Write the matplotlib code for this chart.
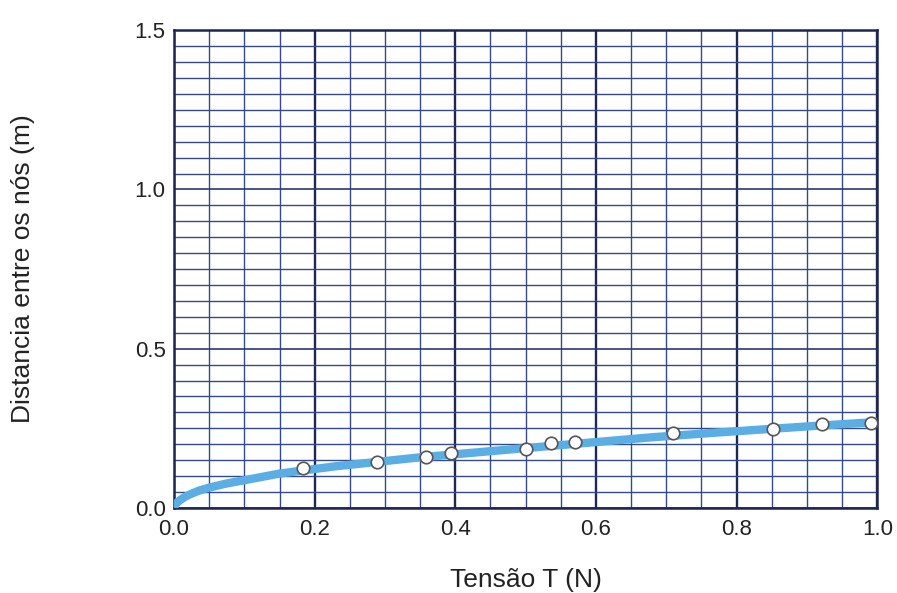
import matplotlib
matplotlib.use("Agg")
import matplotlib.pyplot as plt
from matplotlib.ticker import MultipleLocator

plt.rcParams['font.family'] = ['Liberation Sans', 'DejaVu Sans']

# Measured data points
tension = [0.183, 0.289, 0.359, 0.394, 0.500, 0.536, 0.570, 0.710, 0.852, 0.921, 0.991]
distance = [0.124, 0.144, 0.159, 0.172, 0.184, 0.203, 0.208, 0.235, 0.248, 0.263, 0.268]

# Fitted curve
curve_x = [0.0, 0.003, 0.008, 0.015, 0.023, 0.035, 0.05, 0.075, 0.1, 0.15, 0.23, 0.35, 0.5, 0.68, 0.78, 0.9, 1.0]
curve_y = [0.0, 0.014, 0.024, 0.034, 0.043, 0.054, 0.064, 0.077, 0.087, 0.108, 0.131, 0.159, 0.188, 0.222, 0.238, 0.256, 0.270]

x_ticks = [0.0, 0.2, 0.4, 0.6, 0.8, 1.0]
y_ticks = [0.0, 0.5, 1.0, 1.5]

fig = plt.figure(figsize=(8.97, 5.93), dpi=100)
ax = fig.add_axes([0.194, 0.1434, 0.784, 0.8056])

ax.set_xlim(0, 1.0)
ax.set_ylim(0, 1.5)
ax.set_xticks(x_ticks)
ax.set_yticks(y_ticks)
ax.set_xticklabels([f"{v:.1f}" for v in x_ticks])
ax.set_yticklabels([f"{v:.1f}" for v in y_ticks])
ax.xaxis.set_minor_locator(MultipleLocator(0.05))
ax.yaxis.set_minor_locator(MultipleLocator(0.05))

ax.grid(which='minor', color='#374a86', linewidth=1.0)
ax.grid(which='major', axis='x', color='#1d2750', linewidth=1.7)
ax.grid(which='major', axis='y', color='#2a3a72', linewidth=1.2)
ax.set_axisbelow(True)

ax.tick_params(which='both', length=0)
ax.tick_params(axis='x', labelsize=16, pad=8, colors='#222222')
ax.tick_params(axis='y', labelsize=16, pad=6, colors='#222222')

for sp in ax.spines.values():
    sp.set_color('#1d2750')
    sp.set_linewidth(1.8)

ax.plot(curve_x, curve_y, color='#5aaee3', linewidth=6, solid_capstyle='round', zorder=3)
ax.plot(tension, distance, 'o', markersize=9, markerfacecolor='white',
        markeredgecolor='#555555', markeredgewidth=1.2, zorder=4, clip_on=False)

ax.set_xlabel("Tensão T (N)", fontsize=19, labelpad=20, color='#222222')
ax.set_ylabel("Distancia entre os nós (m)", fontsize=19, labelpad=72, color='#222222')

fig.savefig("out.png", dpi=100)
